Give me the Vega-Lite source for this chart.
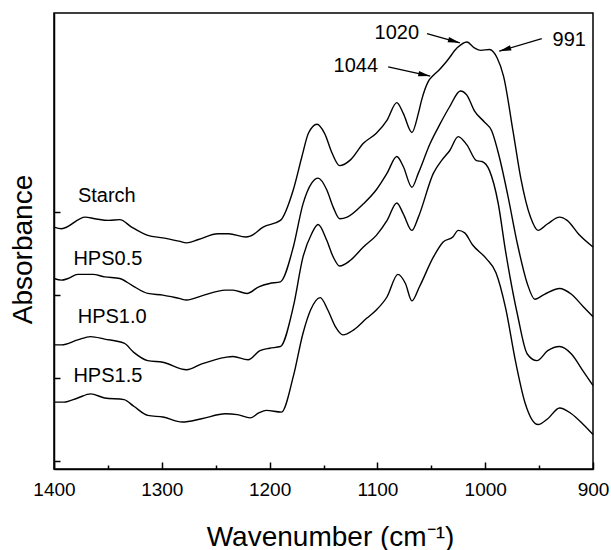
{
  "$schema": "https://vega.github.io/schema/vega-lite/v6.json",
  "width": 539,
  "height": 456,
  "autosize": {"type": "none"},
  "padding": {"left": 54, "top": 13, "right": 18, "bottom": 81},
  "background": "white",
  "config": {
    "font": "Liberation Sans",
    "view": {"stroke": "black", "strokeWidth": 1.5},
    "axis": {"grid": false, "domainColor": "black", "domainWidth": 1.5, "tickColor": "black", "tickWidth": 1.5, "labelColor": "black", "titleColor": "black", "titleFontWeight": "normal"}
  },
  "datasets": {
    "spectra": [
      {"s":"Starch","wn":1400,"a":2.82},{"s":"Starch","wn":1393,"a":2.80},{"s":"Starch","wn":1371,"a":2.94},{"s":"Starch","wn":1362,"a":2.92},{"s":"Starch","wn":1349,"a":2.90},{"s":"Starch","wn":1339,"a":2.91},{"s":"Starch","wn":1328,"a":2.82},{"s":"Starch","wn":1313,"a":2.72},{"s":"Starch","wn":1299,"a":2.69},{"s":"Starch","wn":1284,"a":2.65},{"s":"Starch","wn":1277,"a":2.63},{"s":"Starch","wn":1266,"a":2.67},{"s":"Starch","wn":1248,"a":2.74},{"s":"Starch","wn":1238,"a":2.74},{"s":"Starch","wn":1222,"a":2.70},{"s":"Starch","wn":1218,"a":2.71},{"s":"Starch","wn":1206,"a":2.82},{"s":"Starch","wn":1190,"a":2.90},{"s":"Starch","wn":1178,"a":3.27},{"s":"Starch","wn":1170,"a":3.67},{"s":"Starch","wn":1164,"a":3.95},{"s":"Starch","wn":1156,"a":4.06},{"s":"Starch","wn":1149,"a":3.95},{"s":"Starch","wn":1142,"a":3.71},{"s":"Starch","wn":1135,"a":3.56},{"s":"Starch","wn":1125,"a":3.63},{"s":"Starch","wn":1113,"a":3.83},{"s":"Starch","wn":1101,"a":3.95},{"s":"Starch","wn":1091,"a":4.11},{"s":"Starch","wn":1082,"a":4.32},{"s":"Starch","wn":1076,"a":4.19},{"s":"Starch","wn":1068,"a":3.96},{"s":"Starch","wn":1062,"a":4.19},{"s":"Starch","wn":1059,"a":4.35},{"s":"Starch","wn":1053,"a":4.57},{"s":"Starch","wn":1048,"a":4.65},{"s":"Starch","wn":1043,"a":4.71},{"s":"Starch","wn":1035,"a":4.83},{"s":"Starch","wn":1026,"a":4.98},{"s":"Starch","wn":1017,"a":5.05},{"s":"Starch","wn":1010,"a":4.98},{"s":"Starch","wn":1004,"a":4.95},{"s":"Starch","wn":996,"a":4.96},{"s":"Starch","wn":989,"a":4.86},{"s":"Starch","wn":983,"a":4.64},{"s":"Starch","wn":974,"a":3.96},{"s":"Starch","wn":967,"a":3.41},{"s":"Starch","wn":958,"a":2.94},{"s":"Starch","wn":951,"a":2.78},{"s":"Starch","wn":942,"a":2.86},{"s":"Starch","wn":931,"a":2.94},{"s":"Starch","wn":924,"a":2.90},{"s":"Starch","wn":913,"a":2.73},{"s":"Starch","wn":900,"a":2.58},
      {"s":"HPS0.5","wn":1400,"a":2.20},{"s":"HPS0.5","wn":1393,"a":2.18},{"s":"HPS0.5","wn":1387,"a":2.20},{"s":"HPS0.5","wn":1378,"a":2.25},{"s":"HPS0.5","wn":1364,"a":2.25},{"s":"HPS0.5","wn":1353,"a":2.22},{"s":"HPS0.5","wn":1339,"a":2.20},{"s":"HPS0.5","wn":1328,"a":2.12},{"s":"HPS0.5","wn":1313,"a":2.02},{"s":"HPS0.5","wn":1299,"a":2.00},{"s":"HPS0.5","wn":1284,"a":1.96},{"s":"HPS0.5","wn":1277,"a":1.94},{"s":"HPS0.5","wn":1263,"a":1.99},{"s":"HPS0.5","wn":1241,"a":2.06},{"s":"HPS0.5","wn":1234,"a":2.06},{"s":"HPS0.5","wn":1221,"a":2.02},{"s":"HPS0.5","wn":1210,"a":2.10},{"s":"HPS0.5","wn":1200,"a":2.14},{"s":"HPS0.5","wn":1190,"a":2.16},{"s":"HPS0.5","wn":1178,"a":2.58},{"s":"HPS0.5","wn":1169,"a":3.10},{"s":"HPS0.5","wn":1161,"a":3.35},{"s":"HPS0.5","wn":1155,"a":3.41},{"s":"HPS0.5","wn":1147,"a":3.27},{"s":"HPS0.5","wn":1141,"a":3.06},{"s":"HPS0.5","wn":1135,"a":2.92},{"s":"HPS0.5","wn":1128,"a":2.94},{"s":"HPS0.5","wn":1113,"a":3.10},{"s":"HPS0.5","wn":1101,"a":3.27},{"s":"HPS0.5","wn":1091,"a":3.47},{"s":"HPS0.5","wn":1082,"a":3.67},{"s":"HPS0.5","wn":1076,"a":3.55},{"s":"HPS0.5","wn":1068,"a":3.30},{"s":"HPS0.5","wn":1062,"a":3.47},{"s":"HPS0.5","wn":1051,"a":3.83},{"s":"HPS0.5","wn":1042,"a":4.06},{"s":"HPS0.5","wn":1033,"a":4.27},{"s":"HPS0.5","wn":1023,"a":4.46},{"s":"HPS0.5","wn":1017,"a":4.41},{"s":"HPS0.5","wn":1010,"a":4.22},{"s":"HPS0.5","wn":1001,"a":4.09},{"s":"HPS0.5","wn":994,"a":3.98},{"s":"HPS0.5","wn":987,"a":3.67},{"s":"HPS0.5","wn":979,"a":3.20},{"s":"HPS0.5","wn":970,"a":2.61},{"s":"HPS0.5","wn":961,"a":2.14},{"s":"HPS0.5","wn":954,"a":1.95},{"s":"HPS0.5","wn":945,"a":2.01},{"s":"HPS0.5","wn":931,"a":2.08},{"s":"HPS0.5","wn":920,"a":2.01},{"s":"HPS0.5","wn":909,"a":1.86},{"s":"HPS0.5","wn":900,"a":1.74},
      {"s":"HPS1.0","wn":1400,"a":1.40},{"s":"HPS1.0","wn":1393,"a":1.40},{"s":"HPS1.0","wn":1378,"a":1.46},{"s":"HPS1.0","wn":1366,"a":1.50},{"s":"HPS1.0","wn":1353,"a":1.47},{"s":"HPS1.0","wn":1335,"a":1.42},{"s":"HPS1.0","wn":1326,"a":1.31},{"s":"HPS1.0","wn":1313,"a":1.21},{"s":"HPS1.0","wn":1299,"a":1.19},{"s":"HPS1.0","wn":1277,"a":1.10},{"s":"HPS1.0","wn":1263,"a":1.17},{"s":"HPS1.0","wn":1241,"a":1.25},{"s":"HPS1.0","wn":1234,"a":1.26},{"s":"HPS1.0","wn":1220,"a":1.22},{"s":"HPS1.0","wn":1209,"a":1.33},{"s":"HPS1.0","wn":1200,"a":1.36},{"s":"HPS1.0","wn":1190,"a":1.38},{"s":"HPS1.0","wn":1178,"a":1.86},{"s":"HPS1.0","wn":1169,"a":2.46},{"s":"HPS1.0","wn":1161,"a":2.74},{"s":"HPS1.0","wn":1155,"a":2.85},{"s":"HPS1.0","wn":1147,"a":2.66},{"s":"HPS1.0","wn":1141,"a":2.46},{"s":"HPS1.0","wn":1135,"a":2.35},{"s":"HPS1.0","wn":1125,"a":2.42},{"s":"HPS1.0","wn":1113,"a":2.58},{"s":"HPS1.0","wn":1101,"a":2.72},{"s":"HPS1.0","wn":1091,"a":2.90},{"s":"HPS1.0","wn":1082,"a":3.11},{"s":"HPS1.0","wn":1076,"a":2.98},{"s":"HPS1.0","wn":1068,"a":2.78},{"s":"HPS1.0","wn":1062,"a":2.94},{"s":"HPS1.0","wn":1048,"a":3.47},{"s":"HPS1.0","wn":1040,"a":3.63},{"s":"HPS1.0","wn":1033,"a":3.74},{"s":"HPS1.0","wn":1025,"a":3.91},{"s":"HPS1.0","wn":1017,"a":3.81},{"s":"HPS1.0","wn":1008,"a":3.62},{"s":"HPS1.0","wn":1003,"a":3.61},{"s":"HPS1.0","wn":996,"a":3.50},{"s":"HPS1.0","wn":988,"a":3.11},{"s":"HPS1.0","wn":981,"a":2.52},{"s":"HPS1.0","wn":970,"a":1.76},{"s":"HPS1.0","wn":961,"a":1.29},{"s":"HPS1.0","wn":952,"a":1.21},{"s":"HPS1.0","wn":942,"a":1.33},{"s":"HPS1.0","wn":931,"a":1.38},{"s":"HPS1.0","wn":920,"a":1.29},{"s":"HPS1.0","wn":909,"a":1.08},{"s":"HPS1.0","wn":900,"a":0.91},
      {"s":"HPS1.5","wn":1400,"a":0.71},{"s":"HPS1.5","wn":1391,"a":0.71},{"s":"HPS1.5","wn":1378,"a":0.76},{"s":"HPS1.5","wn":1366,"a":0.81},{"s":"HPS1.5","wn":1353,"a":0.76},{"s":"HPS1.5","wn":1335,"a":0.74},{"s":"HPS1.5","wn":1326,"a":0.66},{"s":"HPS1.5","wn":1313,"a":0.55},{"s":"HPS1.5","wn":1299,"a":0.53},{"s":"HPS1.5","wn":1281,"a":0.47},{"s":"HPS1.5","wn":1263,"a":0.51},{"s":"HPS1.5","wn":1241,"a":0.57},{"s":"HPS1.5","wn":1230,"a":0.56},{"s":"HPS1.5","wn":1218,"a":0.52},{"s":"HPS1.5","wn":1210,"a":0.58},{"s":"HPS1.5","wn":1203,"a":0.61},{"s":"HPS1.5","wn":1189,"a":0.59},{"s":"HPS1.5","wn":1178,"a":1.02},{"s":"HPS1.5","wn":1169,"a":1.54},{"s":"HPS1.5","wn":1162,"a":1.82},{"s":"HPS1.5","wn":1153,"a":1.97},{"s":"HPS1.5","wn":1146,"a":1.82},{"s":"HPS1.5","wn":1139,"a":1.62},{"s":"HPS1.5","wn":1132,"a":1.52},{"s":"HPS1.5","wn":1122,"a":1.58},{"s":"HPS1.5","wn":1110,"a":1.72},{"s":"HPS1.5","wn":1101,"a":1.82},{"s":"HPS1.5","wn":1091,"a":1.98},{"s":"HPS1.5","wn":1081,"a":2.25},{"s":"HPS1.5","wn":1074,"a":2.14},{"s":"HPS1.5","wn":1068,"a":1.93},{"s":"HPS1.5","wn":1061,"a":2.10},{"s":"HPS1.5","wn":1048,"a":2.46},{"s":"HPS1.5","wn":1039,"a":2.64},{"s":"HPS1.5","wn":1030,"a":2.70},{"s":"HPS1.5","wn":1025,"a":2.78},{"s":"HPS1.5","wn":1019,"a":2.75},{"s":"HPS1.5","wn":1012,"a":2.61},{"s":"HPS1.5","wn":999,"a":2.44},{"s":"HPS1.5","wn":990,"a":2.27},{"s":"HPS1.5","wn":981,"a":1.84},{"s":"HPS1.5","wn":972,"a":1.21},{"s":"HPS1.5","wn":963,"a":0.70},{"s":"HPS1.5","wn":951,"a":0.44},{"s":"HPS1.5","wn":942,"a":0.51},{"s":"HPS1.5","wn":931,"a":0.64},{"s":"HPS1.5","wn":920,"a":0.57},{"s":"HPS1.5","wn":909,"a":0.44},{"s":"HPS1.5","wn":900,"a":0.32}
    ],
    "labels": [
      {"t":"Starch","wn":1351,"a":3.19},
      {"t":"HPS0.5","wn":1350,"a":2.44},
      {"t":"HPS1.0","wn":1346,"a":1.73},
      {"t":"HPS1.5","wn":1350,"a":1.02},
      {"t":"1020","wn":1082,"a":5.16},
      {"t":"1044","wn":1120,"a":4.76},
      {"t":"991","wn":922,"a":5.07}
    ],
    "arrows": [
      {"k":"1020","x1":1054,"y1":5.15,"x2":1023.5,"y2":5.04},
      {"k":"1044","x1":1090,"y1":4.75,"x2":1051,"y2":4.64},
      {"k":"991","x1":947.5,"y1":5.09,"x2":987,"y2":4.94}
    ]
  },
  "layer": [
    {
      "data": {"name": "spectra"},
      "mark": {"type": "line", "interpolate": "monotone", "color": "black", "strokeWidth": 1.4},
      "encoding": {
        "x": {
          "field": "wn", "type": "quantitative",
          "scale": {"domain": [900, 1400], "reverse": true, "nice": false, "zero": false},
          "axis": {
            "values": [900, 950, 1000, 1050, 1100, 1150, 1200, 1250, 1300, 1350, 1400],
            "format": "d",
            "labelExpr": "datum.value % 100 === 0 ? datum.label : ''",
            "tickSize": {"condition": {"test": "datum.value % 100 === 0", "value": -7}, "value": -4},
            "labelFontSize": 19,
            "labelPadding": 18,
            "labelFlush": false,
            "labelOverlap": false,
            "title": "Wavenumber (cm⁻¹)",
            "titleFontSize": 28,
            "titleBaseline": "alphabetic",
            "titleX": 276,
            "titleY": 76
          }
        },
        "y": {
          "field": "a", "type": "quantitative",
          "scale": {"domain": [-0.096, 5.4], "nice": false, "zero": false},
          "axis": {
            "values": [0, 1, 2, 3],
            "labels": false,
            "tickSize": -6,
            "title": "Absorbance",
            "titleFontSize": 28,
            "titleBaseline": "alphabetic",
            "titleX": -23,
            "titleY": 236
          }
        },
        "detail": {"field": "s"}
      }
    },
    {
      "data": {"name": "labels"},
      "mark": {"type": "text", "fontSize": 20, "color": "black", "baseline": "middle", "align": "center"},
      "encoding": {
        "x": {"field": "wn", "type": "quantitative"},
        "y": {"field": "a", "type": "quantitative"},
        "text": {"field": "t"}
      }
    },
    {
      "data": {"name": "arrows"},
      "mark": {"type": "rule", "color": "black", "strokeWidth": 1.3},
      "encoding": {
        "x": {"field": "x1", "type": "quantitative"},
        "y": {"field": "y1", "type": "quantitative"},
        "x2": {"field": "x2"},
        "y2": {"field": "y2"}
      }
    },
    {
      "data": {"name": "arrows"},
      "transform": [{"filter": "datum.k === '1020'"}],
      "mark": {"type": "point", "shape": "M0,0L-2,-0.45L-2,0.45Z", "size": 144, "filled": true, "color": "black", "opacity": 1, "angle": 15.5},
      "encoding": {
        "x": {"field": "x2", "type": "quantitative"},
        "y": {"field": "y2", "type": "quantitative"}
      }
    },
    {
      "data": {"name": "arrows"},
      "transform": [{"filter": "datum.k === '1044'"}],
      "mark": {"type": "point", "shape": "M0,0L-2,-0.45L-2,0.45Z", "size": 144, "filled": true, "color": "black", "opacity": 1, "angle": 12.2},
      "encoding": {
        "x": {"field": "x2", "type": "quantitative"},
        "y": {"field": "y2", "type": "quantitative"}
      }
    },
    {
      "data": {"name": "arrows"},
      "transform": [{"filter": "datum.k === '991'"}],
      "mark": {"type": "point", "shape": "M0,0L-2,-0.45L-2,0.45Z", "size": 144, "filled": true, "color": "black", "opacity": 1, "angle": 163.7},
      "encoding": {
        "x": {"field": "x2", "type": "quantitative"},
        "y": {"field": "y2", "type": "quantitative"}
      }
    }
  ]
}
